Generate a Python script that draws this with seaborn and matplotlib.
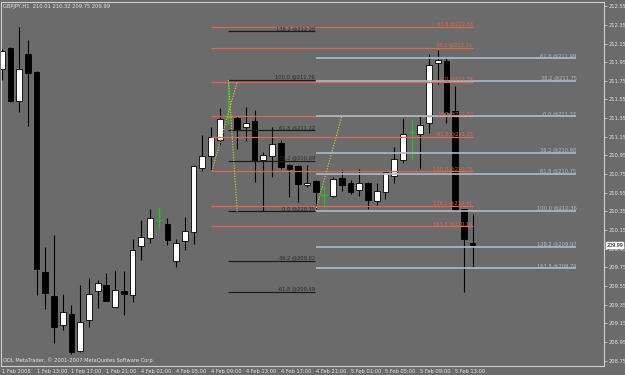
import numpy as np
import pandas as pd
import matplotlib
matplotlib.use("Agg")
import matplotlib.pyplot as plt
import seaborn as sns
from matplotlib import font_manager

# ---------------- data ----------------
opens = [211.88, 212.10, 211.53, 212.04, 211.84, 209.70, 209.44, 209.13, 209.25, 208.85,
         209.19, 209.50, 209.56, 209.33, 209.50, 209.45, 209.98, 210.07, 210.26, 210.22,
         209.82, 210.03, 210.13, 210.82, 210.94, 211.12, 211.36, 211.35, 211.25, 211.32,
         210.90, 210.94, 211.08, 210.85, 210.84, 210.63, 210.68, 210.53, 210.52, 210.71,
         210.66, 210.58, 210.65, 210.46, 210.56, 210.73, 210.90, 211.20, 211.18, 211.30,
         211.94, 211.96, 211.43, 210.38, 210.01]
highs = [212.09, 212.11, 212.33, 212.19, 211.85, 209.97, 210.10, 209.47, 209.35, 209.56,
         209.64, 209.61, 209.69, 209.72, 209.71, 210.05, 210.26, 210.38, 210.40, 210.28,
         210.05, 210.29, 210.85, 211.17, 211.25, 211.46, 211.76, 211.37, 211.47, 211.44,
         210.99, 211.25, 211.12, 210.86, 210.85, 210.85, 210.69, 210.62, 210.72, 210.79,
         210.69, 210.81, 210.67, 210.66, 210.77, 211.04, 211.35, 211.33, 211.37, 212.04,
         212.08, 212.01, 211.69, 210.38, 210.32]
lows = [211.76, 211.52, 211.42, 211.27, 209.45, 209.30, 208.94, 209.08, 208.82, 208.84,
        209.11, 209.31, 209.39, 209.33, 209.24, 209.38, 209.83, 210.01, 210.17, 209.99,
        209.76, 209.94, 210.00, 210.78, 210.78, 211.06, 211.29, 211.02, 211.11, 210.67,
        210.35, 210.72, 210.80, 210.50, 210.45, 210.61, 210.36, 210.39, 210.51, 210.57,
        210.54, 210.52, 210.38, 210.42, 210.48, 210.66, 210.87, 210.91, 210.81, 211.19,
        211.72, 211.30, 210.37, 209.49, 209.75]
closes = [212.07, 211.53, 211.88, 211.83, 209.73, 209.48, 209.11, 209.27, 208.84, 209.17,
          209.46, 209.58, 209.39, 209.51, 209.47, 209.94, 210.08, 210.28, 210.26, 210.04,
          210.01, 210.14, 210.84, 210.94, 211.15, 211.34, 211.36, 211.22, 211.30, 210.90,
          210.96, 211.07, 210.83, 210.81, 210.64, 210.66, 210.56, 210.53, 210.70, 210.63,
          210.56, 210.66, 210.47, 210.57, 210.77, 210.91, 211.18, 211.20, 211.28, 211.92,
          211.97, 211.42, 210.37, 210.06, 209.99]

time_labels = ['1 Feb 2008', '1 Feb 13:00', '1 Feb 17:00', '1 Feb 21:00', '4 Feb 01:00',
               '4 Feb 05:00', '4 Feb 09:00', '4 Feb 13:00', '4 Feb 17:00', '4 Feb 21:00',
               '5 Feb 01:00', '5 Feb 05:00', '5 Feb 09:00', '5 Feb 13:00']
price_ticks = [212.55, 212.35, 212.15, 211.95, 211.75, 211.55, 211.35, 211.15, 210.95,
               210.75, 210.55, 210.35, 210.15, 209.95, 209.75, 209.55, 209.35, 209.15,
               208.95, 208.75]

black_fib_levels = [212.28, 211.76, 211.22, 210.89, 210.35, 209.82, 209.49]
black_fib_names = ['138.2', '100.0', '61.8', '38.2', '0.0', '-38.2', '-61.8']
red_fib_levels = [212.33, 212.10, 211.74, 211.37, 211.15, 210.78, 210.41, 210.19]
red_fib_names = ['61.8', '38.2', '0.0', '38.2', '61.8', '100.0', '138.2', '161.8']
blue_fib_levels = [211.99, 211.75, 211.37, 210.98, 210.75, 210.36, 209.97, 209.74]
blue_fib_names = ['61.8', '38.2', '0.0', '38.2', '61.8', '100.0', '138.2', '161.8']

# fibonacci anchor points (bar, price)
black_anchor_bars = [26, 27]
black_anchor_prices = [211.76, 210.35]
red_anchor_bars = [24.1, 27]
red_anchor_prices = [210.78, 211.74]
blue_anchor_bars = [36, 39]
blue_anchor_prices = [210.36, 211.37]

symbol = "GBPJPY,H1"
last_price = 209.99
footer = "ODL MetaTrader, \u00a9 2001-2007 MetaQuotes Software Corp."

# ---------------- style ----------------
BG = '#6b6b6b'
sns.set_style('dark', {'axes.facecolor': BG, 'figure.facecolor': BG})
avail = {f.name for f in font_manager.fontManager.ttflist}
if 'Liberation Sans Narrow' in avail:
    FONT, FS = 'Liberation Sans Narrow', 4.6
else:
    FONT, FS = 'DejaVu Sans', 3.7
plt.rcParams['font.family'] = [FONT, 'DejaVu Sans']

LIGHT = '#e6e6e6'
AXLINE = '#cfcfcf'
RED = '#e2654e'
BLUE = '#a9bccb'
DARK = '#1c1c1c'
YEL = '#cbca36'
GREEN = '#22c322'

fig = plt.figure(figsize=(6.25, 3.75), dpi=100)
fig.patch.set_facecolor(BG)
ax = fig.add_axes([0.7 / 625, (375 - 365.5) / 375, 603.6 / 625, 363.8 / 375])
ax.set_facecolor(BG)

df = pd.DataFrame({'x': np.arange(len(opens)), 'o': opens, 'h': highs,
                   'l': lows, 'c': closes})
up = df[df.c > df.o]
dn = df[df.c < df.o]
dj = df[df.c == df.o]
nd = df[df.c != df.o]

ax.vlines(nd.x, nd.l, nd.h, color='black', lw=0.8, zorder=3)
ax.bar(up.x, up.c - up.o, bottom=up.o, width=0.66, color='white',
       edgecolor='black', linewidth=0.6, zorder=4)
ax.bar(dn.x, dn.c - dn.o, bottom=dn.o, width=0.66, color='black',
       edgecolor='black', linewidth=0.6, zorder=4)
ax.vlines(dj.x, dj.l, dj.h, color=GREEN, lw=0.9, zorder=4)
ax.hlines(dj.o, dj.x - 0.33, dj.x + 0.33, color=GREEN, lw=0.9, zorder=4)

def fib(levels, names, x0, x1, color, tcolor, lw):
    ax.hlines(levels, x0, x1, color=color, lw=lw, zorder=5)
    for lvl, nm in zip(levels, names):
        ax.annotate(f"{nm} @{lvl:.2f}", xy=(x1, lvl), xytext=(0, 0.3),
                    textcoords='offset points', ha='right', va='bottom',
                    fontsize=FS, color=tcolor, zorder=6)

fib(red_fib_levels, red_fib_names, red_anchor_bars[0] - 0.1, 54.0, RED, RED, 0.9)
fib(blue_fib_levels, blue_fib_names, 36.0, 65.9, BLUE, BLUE, 1.2)
fib(black_fib_levels, black_fib_names, 26.0, 35.9, DARK, '#2a2a2a', 0.9)

for bx, bp in [(black_anchor_bars, black_anchor_prices),
               (red_anchor_bars, red_anchor_prices),
               (blue_anchor_bars, blue_anchor_prices)]:
    sns.lineplot(x=bx, y=bp, ax=ax, color=YEL, lw=0.8, linestyle=(0, (1.2, 1.2)),
                 sort=False, zorder=6)

ax.set_xlim(-0.115, 69.1)
ax.set_ylim(208.699, 212.598)

ax.set_xticks(np.arange(0, 4 * len(time_labels), 4))
ax.set_xticklabels(time_labels, ha='left')
ax.yaxis.tick_right()
ax.set_yticks(price_ticks)
ax.set_yticklabels([f"{v:.2f}" for v in price_ticks])
ax.tick_params(axis='both', labelsize=FS, colors=AXLINE, labelcolor=LIGHT,
               length=2, width=0.6, pad=1, direction='out')
ax.tick_params(axis='x', pad=0.8)
ax.grid(False)
for s in ax.spines.values():
    s.set_visible(True)
    s.set_color(AXLINE)
    s.set_linewidth(0.8)

ax.text(0.004, 0.993, f"{symbol}  {opens[-1]:.2f} {highs[-1]:.2f} {lows[-1]:.2f} {closes[-1]:.2f}",
        transform=ax.transAxes, ha='left', va='top', fontsize=FS, color=LIGHT)
ax.text(0.004, 0.008, footer, transform=ax.transAxes, ha='left', va='bottom',
        fontsize=FS, color=LIGHT)

ax.annotate(f"{last_price:.2f}", xy=(1.0, last_price), xycoords=('axes fraction', 'data'),
            xytext=(1.4, 0), textcoords='offset points', ha='left', va='center',
            fontsize=FS * 0.95, color='black',
            bbox=dict(boxstyle='square,pad=0.08', fc='white', ec='white'),
            annotation_clip=False, zorder=10)

fig.savefig('out.png', dpi=100, facecolor=BG)
